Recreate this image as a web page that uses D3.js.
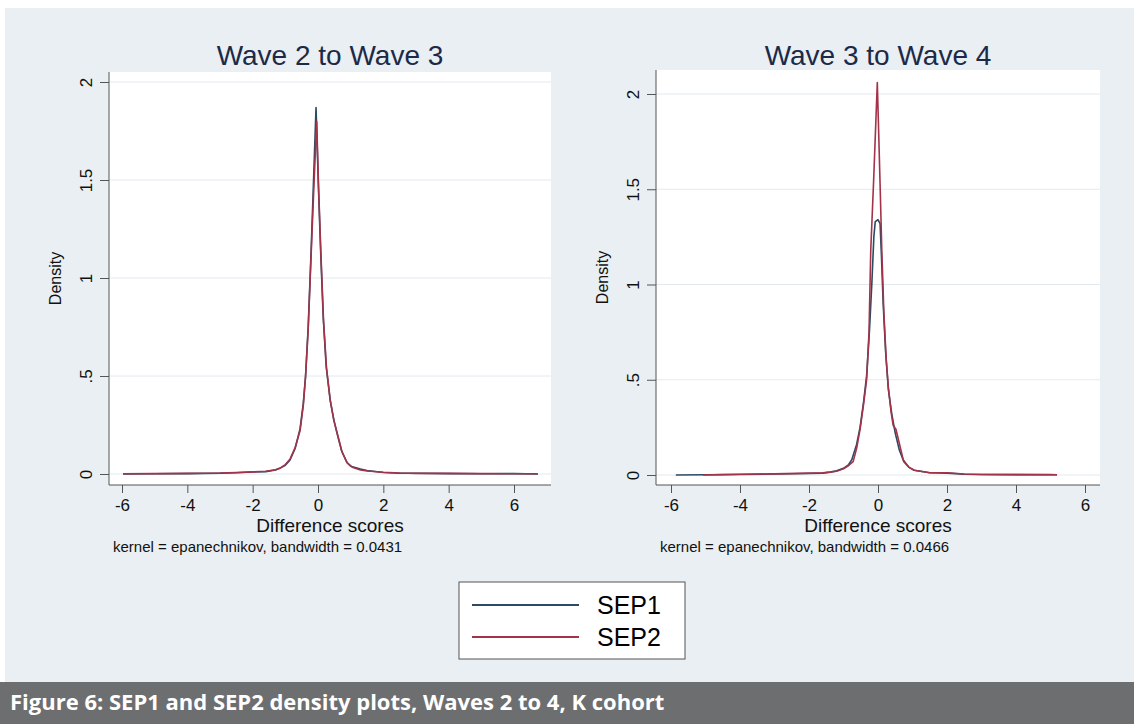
<!DOCTYPE html>
<html>
<head>
<meta charset="utf-8">
<script src="https://cdn.jsdelivr.net/npm/d3@7/dist/d3.min.js"></script>
<style>
body { margin: 0; background: #fff; }
</style>
</head>
<body>
<svg id="viewBox" width="1134" height="724"></svg>
<script>
'use strict'

const seriesNames = ['SEP1', 'SEP2']
const panelTitles = ['Wave 2 to Wave 3', 'Wave 3 to Wave 4']
const bandwidths = ['0.0431', '0.0466']
const xTicks = [-6, -4, -2, 0, 2, 4, 6]
const yTicks = [0, 0.5, 1, 1.5, 2]
const yTickLabels = ['0', '.5', '1', '1.5', '2']

// wave 2 -> 3, [difference score, density]
const w23Sep1 = [
    [-5.97, 0.0], [-5, 0.001], [-4, 0.002], [-3, 0.004], [-2.5, 0.006], [-2, 0.01],
    [-1.6, 0.012], [-1.3, 0.02], [-1.16, 0.03], [-1.0, 0.045], [-0.86, 0.07], [-0.7, 0.13],
    [-0.55, 0.23], [-0.45, 0.36], [-0.38, 0.5], [-0.3, 0.75], [-0.21, 1.14], [-0.14, 1.48],
    [-0.06, 1.87], [0.01, 1.48], [0.08, 1.14], [0.16, 0.8], [0.25, 0.55], [0.37, 0.38],
    [0.48, 0.28], [0.58, 0.21], [0.72, 0.12], [0.88, 0.06], [1.0, 0.04], [1.3, 0.025],
    [1.5, 0.018], [2, 0.008], [2.5, 0.004], [3, 0.004], [4, 0.002], [5, 0.001], [6, 0.002], [6.73, 0.0]
]
const w23Sep2 = [
    [-5.97, 0.001], [-5, 0.002], [-4, 0.003], [-3, 0.005], [-2.5, 0.008], [-2, 0.011],
    [-1.6, 0.014], [-1.3, 0.022], [-1.16, 0.03], [-1.0, 0.048], [-0.86, 0.075], [-0.7, 0.135],
    [-0.55, 0.22], [-0.45, 0.35], [-0.38, 0.5], [-0.3, 0.74], [-0.21, 1.12], [-0.13, 1.45],
    [-0.04, 1.80], [0.02, 1.45], [0.09, 1.12], [0.17, 0.78], [0.26, 0.54], [0.38, 0.37],
    [0.49, 0.27], [0.6, 0.2], [0.74, 0.11], [0.9, 0.055], [1.05, 0.035], [1.3, 0.02],
    [1.5, 0.015], [2, 0.009], [2.5, 0.005], [3, 0.003], [4, 0.003], [5, 0.002], [6, 0.001], [6.73, 0.001]
]

// wave 3 -> 4
const w34Sep1 = [
    [-5.86, 0.0], [-5, 0.001], [-4, 0.003], [-3, 0.005], [-2, 0.008], [-1.6, 0.01],
    [-1.39, 0.015], [-1.2, 0.022], [-1.0, 0.035], [-0.85, 0.055], [-0.76, 0.08], [-0.62, 0.16],
    [-0.52, 0.25], [-0.42, 0.38], [-0.33, 0.52], [-0.25, 0.75], [-0.18, 1.0], [-0.12, 1.25],
    [-0.08, 1.33], [0.0, 1.34], [0.06, 1.32], [0.1, 1.15], [0.15, 0.9], [0.22, 0.65],
    [0.3, 0.45], [0.4, 0.32], [0.5, 0.22], [0.62, 0.13], [0.75, 0.07], [0.9, 0.04],
    [1.05, 0.025], [1.5, 0.012], [2, 0.01], [2.5, 0.004], [3, 0.003], [4, 0.002], [5, 0.001], [5.19, 0.001]
]
const w34Sep2 = [
    [-5.07, 0.0], [-4.5, 0.002], [-4, 0.004], [-3, 0.006], [-2, 0.01], [-1.6, 0.012],
    [-1.39, 0.015], [-1.2, 0.02], [-1.0, 0.033], [-0.85, 0.05], [-0.72, 0.07], [-0.62, 0.14],
    [-0.52, 0.24], [-0.42, 0.37], [-0.33, 0.5], [-0.26, 0.75], [-0.21, 1.18], [-0.13, 1.53],
    [-0.02, 2.06], [0.06, 1.53], [0.11, 1.18], [0.17, 0.85], [0.24, 0.6], [0.3, 0.46],
    [0.38, 0.33], [0.44, 0.26], [0.52, 0.24], [0.6, 0.18], [0.73, 0.08], [0.9, 0.04],
    [1.05, 0.025], [1.5, 0.012], [2, 0.012], [2.5, 0.005], [3, 0.003], [4, 0.002], [5, 0.002], [5.19, 0.001]
]

const captionText = 'Figure 6: SEP1 and SEP2 density plots, Waves 2 to 4, K cohort'

const colors = ['#2b4a63', '#a23349']
const font = '"Liberation Sans", Arial, Helvetica, sans-serif'

const panels = [
    { left: 109, right: 551, top: 72, bottom: 485, xr: [122, 514], yr: [474, 82], series: [w23Sep1, w23Sep2] },
    { left: 656, right: 1100, top: 70, bottom: 485, xr: [671, 1085], yr: [475, 94], series: [w34Sep1, w34Sep2] }
]

const svg = d3.select('#viewBox')

// graph region background
svg.append('rect')
    .attr('x', 5).attr('y', 8)
    .attr('width', 1129).attr('height', 674)
    .attr('fill', '#e9eff2')

const draw_panel = (p, i) => {
    const x = d3.scaleLinear().domain([-6, 6]).range(p.xr)
    const y = d3.scaleLinear().domain([0, 2]).range(p.yr)
    const g = svg.append('g')
    const cx = (p.left + p.right) / 2

    g.append('rect')
        .attr('x', p.left).attr('y', p.top)
        .attr('width', p.right - p.left).attr('height', p.bottom - p.top)
        .attr('fill', '#fff')

    g.append('g')
        .selectAll('line')
        .data(yTicks)
        .join('line')
        .attr('x1', p.left).attr('x2', p.right)
        .attr('y1', d => y(d)).attr('y2', d => y(d))
        .attr('stroke', '#e3eaee')
        .attr('stroke-width', 1)

    const line = d3.line()
        .x(d => x(d[0]))
        .y(d => y(d[1]))

    g.append('g')
        .selectAll('path')
        .data(p.series)
        .join('path')
        .attr('d', line)
        .attr('fill', 'none')
        .attr('stroke', (d, k) => colors[k])
        .attr('stroke-width', 1.6)
        .attr('stroke-linejoin', 'round')

    // axes, lines span the whole plot region like stata does
    const xAxis = g.append('g')
        .attr('transform', `translate(0,${p.bottom})`)
        .call(d3.axisBottom(x).tickValues(xTicks).tickSize(8).tickPadding(6).tickFormat(d => String(d)))
    xAxis.select('.domain').remove()
    xAxis.append('line')
        .attr('x1', p.left).attr('x2', p.right)
        .attr('stroke', '#555')
    xAxis.selectAll('.tick line').attr('stroke', '#555')
    xAxis.selectAll('text')
        .attr('fill', '#111')
        .style('font', `17px ${font}`)

    const yAxis = g.append('g')
        .attr('transform', `translate(${p.left},0)`)
        .call(d3.axisLeft(y).tickValues(yTicks).tickSize(9).tickFormat((d, k) => yTickLabels[k]))
    yAxis.select('.domain').remove()
    yAxis.append('line')
        .attr('y1', p.top).attr('y2', p.bottom)
        .attr('stroke', '#555')
    yAxis.selectAll('.tick line').attr('stroke', '#555')
    yAxis.selectAll('text')
        .attr('x', null).attr('dy', null)
        .attr('text-anchor', 'middle')
        .attr('transform', 'translate(-17,0) rotate(-90)')
        .attr('fill', '#111')
        .style('font', `17px ${font}`)

    g.append('text')
        .attr('x', cx).attr('y', 65)
        .attr('text-anchor', 'middle')
        .attr('fill', '#1c2a48')
        .style('font', `28px ${font}`)
        .text(panelTitles[i])

    g.append('text')
        .attr('x', cx).attr('y', 532)
        .attr('text-anchor', 'middle')
        .attr('fill', '#111')
        .style('font', `19px ${font}`)
        .text('Difference scores')

    g.append('text')
        .attr('transform', `translate(${p.left - 48},${(p.top + p.bottom) / 2}) rotate(-90)`)
        .attr('text-anchor', 'middle')
        .attr('fill', '#111')
        .style('font', `16px ${font}`)
        .text('Density')

    g.append('text')
        .attr('x', p.left + 4).attr('y', 552)
        .attr('fill', '#111')
        .style('font', `15px ${font}`)
        .text(`kernel = epanechnikov, bandwidth = ${bandwidths[i]}`)
}

panels.forEach(draw_panel)

// legend
const legend = svg.append('g')
legend.append('rect')
    .attr('x', 459).attr('y', 582)
    .attr('width', 226).attr('height', 77)
    .attr('fill', '#fff')
    .attr('stroke', '#555')
const items = legend.selectAll('g')
    .data(seriesNames)
    .join('g')
    .attr('transform', (d, k) => `translate(0,${605 + k * 32})`)
items.append('line')
    .attr('x1', 472).attr('x2', 579)
    .attr('stroke', (d, k) => colors[k])
    .attr('stroke-width', 2)
items.append('text')
    .attr('x', 597)
    .attr('dy', '0.35em')
    .attr('fill', '#000')
    .style('font', `25px ${font}`)
    .text(d => d)

// caption bar
svg.append('rect')
    .attr('x', 0).attr('y', 682)
    .attr('width', 1134).attr('height', 42)
    .attr('fill', '#6d6e70')
svg.append('text')
    .attr('x', 10).attr('y', 710)
    .attr('fill', '#fff')
    .style('font', 'bold 22px "Open Sans", "Noto Sans", sans-serif')
    .text(captionText)
</script>
</body>
</html>
